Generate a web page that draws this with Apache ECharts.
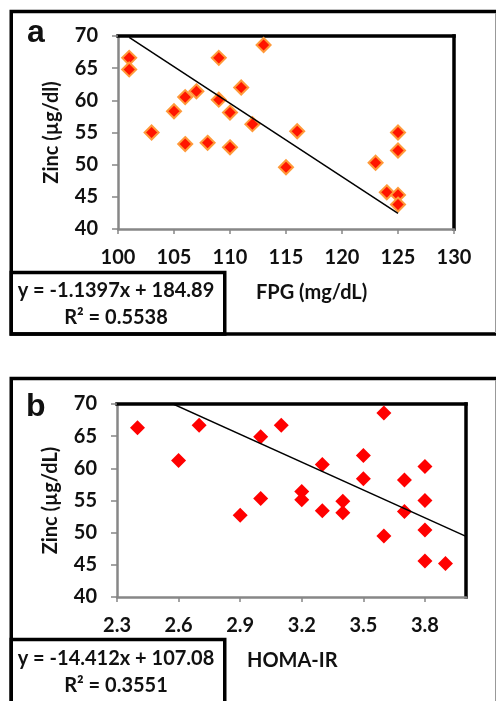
<!DOCTYPE html>
<html>
<head>
<meta charset="utf-8">
<title>Zinc vs FPG and HOMA-IR</title>
<script src="https://cdn.jsdelivr.net/npm/echarts@6/dist/echarts.min.js"></script>
<style>
  html, body { margin: 0; padding: 0; background: #fff; }
  #chart { width: 496px; height: 701px; }
</style>
</head>
<body>
<div id="chart"></div>
<script>
// Panel a: fasting plasma glucose (mg/dL) vs serum zinc
const fpg = [101, 101, 103, 105, 106, 106, 107, 108, 109, 109, 110, 110,
             111, 112, 113, 115, 116, 123, 124, 125, 125, 125, 125];
const zincA = [66.6, 64.8, 55.0, 58.3, 60.5, 53.2, 61.4, 53.4, 66.6, 60.1, 58.1, 52.7,
               62.0, 56.3, 68.6, 49.6, 55.2, 50.3, 45.7, 55.0, 52.2, 45.3, 43.8];
// Panel b: HOMA-IR vs serum zinc
const homa = [2.4, 2.6, 2.7, 2.9, 3.0, 3.0, 3.1, 3.2, 3.2, 3.3, 3.3, 3.4,
              3.4, 3.5, 3.5, 3.6, 3.6, 3.7, 3.7, 3.8, 3.8, 3.8, 3.8, 3.9];
const zincB = [66.3, 61.2, 66.7, 52.7, 64.9, 55.3, 66.7, 56.4, 55.1, 60.6, 53.4, 54.9,
               53.1, 62.0, 58.4, 68.6, 49.5, 58.2, 53.3, 60.3, 55.0, 50.4, 45.6, 45.2];

// Linear trendlines as reported on the chart
const fitA = { slope: -1.1397, intercept: 184.89, r2: '0.5538', from: 101, to: 125 };
const fitB = { slope: -14.412, intercept: 107.08, r2: '0.3551', from: 2.4, to: 4.0 };

// Axis ticks
const zincTicks = [40, 45, 50, 55, 60, 65, 70];
const fpgTicks = [100, 105, 110, 115, 120, 125, 130];
const homaTicks = [2.3, 2.6, 2.9, 3.2, 3.5, 3.8];

const FONT = 'Lato, "Open Sans", sans-serif';
const FS = 20;
const GRAY = '#878787';

function pairs(xs, ys) { return xs.map((x, i) => [x, ys[i]]); }
function fitLine(f) {
  return [f.from, f.to].map(x => [x, +(f.slope * x + f.intercept).toFixed(4)]);
}
function eqText(f) {
  return 'y = ' + f.slope + 'x + ' + f.intercept;
}

const labelStyle = { color: '#111', fontFamily: FONT, fontWeight: 'bold', fontSize: FS };

function bottomAxis(gridIndex, ticks, extra) {
  return Object.assign({
    type: 'value', gridIndex, position: 'bottom',
    min: ticks[0], max: ticks[ticks.length - 1],
    axisLine: { show: true, onZero: false, lineStyle: { color: GRAY, width: 2.5 } },
    axisTick: { show: true, inside: false, length: 5, lineStyle: { color: GRAY, width: 1.5 } },
    axisLabel: Object.assign({ margin: 19 }, labelStyle),
    splitLine: { show: false }
  }, extra);
}
function leftAxis(gridIndex, name) {
  return {
    type: 'value', gridIndex, position: 'left',
    min: 40, max: 70, interval: 5,
    name, nameLocation: 'middle', nameRotate: 90, nameGap: 56,
    nameTextStyle: { color: '#111', fontFamily: FONT, fontWeight: 'bold', fontSize: FS },
    axisLine: { show: true, onZero: false, lineStyle: { color: GRAY, width: 2.5 } },
    axisTick: { show: true, inside: false, length: 6, lineStyle: { color: GRAY, width: 1.5 } },
    axisLabel: Object.assign({ margin: 20 }, labelStyle),
    splitLine: { show: false }
  };
}
function frameAxis(kind, gridIndex, min, max) {
  return {
    type: 'value', gridIndex, position: kind === 'x' ? 'top' : 'right',
    min, max,
    axisLine: { show: true, onZero: false, lineStyle: { color: '#000', width: 3.5, cap: 'square' } },
    axisTick: { show: false }, axisLabel: { show: false }, splitLine: { show: false }
  };
}

const chart = echarts.init(document.getElementById('chart'), null, { renderer: 'canvas' });

chart.setOption({
  animation: false,
  backgroundColor: '#fff',
  grid: [
    { left: 118, top: 36, width: 336, height: 193 },
    { left: 117, top: 404, width: 349, height: 193 }
  ],
  xAxis: [
    bottomAxis(0, fpgTicks, { interval: 5 }),
    frameAxis('x', 0, fpgTicks[0], fpgTicks[fpgTicks.length - 1]),
    bottomAxis(1, homaTicks, {
      max: 4.0,
      axisTick: { show: true, length: 5, customValues: homaTicks, lineStyle: { color: GRAY, width: 1.5 } },
      axisLabel: Object.assign({ margin: 19, customValues: homaTicks, formatter: v => v.toFixed(1) }, labelStyle)
    }),
    frameAxis('x', 1, homaTicks[0], 4.0)
  ],
  yAxis: [
    leftAxis(0, 'Zinc (µg/dl)'),
    frameAxis('y', 0, zincTicks[0], zincTicks[zincTicks.length - 1]),
    leftAxis(1, 'Zinc (µg/dL)'),
    frameAxis('y', 1, zincTicks[0], zincTicks[zincTicks.length - 1])
  ],
  series: [
    {
      type: 'scatter', xAxisIndex: 0, yAxisIndex: 0,
      symbol: 'diamond', symbolSize: 14,
      itemStyle: { color: '#ff1500', borderColor: '#ff9a3a', borderWidth: 2, opacity: 1 },
      data: pairs(fpg, zincA), z: 3
    },
    {
      type: 'line', xAxisIndex: 0, yAxisIndex: 0,
      showSymbol: false, symbol: 'none', clip: true,
      lineStyle: { color: '#000', width: 1.5 },
      data: fitLine(fitA), z: 4
    },
    {
      type: 'scatter', xAxisIndex: 2, yAxisIndex: 2,
      symbol: 'diamond', symbolSize: 15,
      itemStyle: { color: '#ff0000', opacity: 1 },
      data: pairs(homa, zincB), z: 3
    },
    {
      type: 'line', xAxisIndex: 2, yAxisIndex: 2,
      showSymbol: false, symbol: 'none', clip: true,
      lineStyle: { color: '#000', width: 1.5 },
      data: fitLine(fitB), z: 4
    }
  ],
  graphic: [
    // panel frames
    { type: 'rect', shape: { x: 11.25, y: 11.5, width: 500, height: 322.5 },
      style: { fill: 'transparent', stroke: '#000', lineWidth: 3.5 }, silent: true },
    { type: 'rect', shape: { x: 11.25, y: 272.5, width: 213.5, height: 61.5 },
      style: { fill: 'transparent', stroke: '#000', lineWidth: 3.5 }, silent: true },
    { type: 'rect', shape: { x: 11.25, y: 378.5, width: 500, height: 340 },
      style: { fill: 'transparent', stroke: '#000', lineWidth: 3.5 }, silent: true },
    { type: 'rect', shape: { x: 11.25, y: 639.5, width: 213.5, height: 80 },
      style: { fill: 'transparent', stroke: '#000', lineWidth: 3.5 }, silent: true },
    { type: 'line', shape: { x1: 495.5, y1: 13, x2: 495.5, y2: 333 },
      style: { stroke: '#999', lineWidth: 1 }, silent: true },
    { type: 'line', shape: { x1: 495.5, y1: 380, x2: 495.5, y2: 701 },
      style: { stroke: '#999', lineWidth: 1 }, silent: true },
    // panel letters
    { type: 'text', x: 27, y: 33, style: { text: 'a', fill: '#111',
      font: 'bold 32px "Liberation Sans", Arial, sans-serif', verticalAlign: 'middle' } },
    { type: 'text', x: 26, y: 407, style: { text: 'b', fill: '#111',
      font: 'bold 32px "Liberation Sans", Arial, sans-serif', verticalAlign: 'middle' } },
    // x-axis titles
    { type: 'text', x: 256, y: 293, style: { text: 'FPG (mg/dL)', fill: '#111',
      font: 'bold ' + FS + 'px ' + FONT, verticalAlign: 'middle' } },
    { type: 'text', x: 247, y: 661, style: { text: 'HOMA-IR', fill: '#111',
      font: 'bold ' + FS + 'px ' + FONT, verticalAlign: 'middle' } },
    // trendline equations
    { type: 'text', x: 116, y: 291, style: { text: eqText(fitA), fill: '#111',
      font: 'bold ' + FS + 'px ' + FONT, align: 'center', verticalAlign: 'middle' } },
    { type: 'text', x: 116, y: 318, style: { text: 'R² = ' + fitA.r2, fill: '#111',
      font: 'bold ' + FS + 'px ' + FONT, align: 'center', verticalAlign: 'middle' } },
    { type: 'text', x: 116, y: 659, style: { text: eqText(fitB), fill: '#111',
      font: 'bold ' + FS + 'px ' + FONT, align: 'center', verticalAlign: 'middle' } },
    { type: 'text', x: 116, y: 686, style: { text: 'R² = ' + fitB.r2, fill: '#111',
      font: 'bold ' + FS + 'px ' + FONT, align: 'center', verticalAlign: 'middle' } }
  ]
});
</script>
</body>
</html>
